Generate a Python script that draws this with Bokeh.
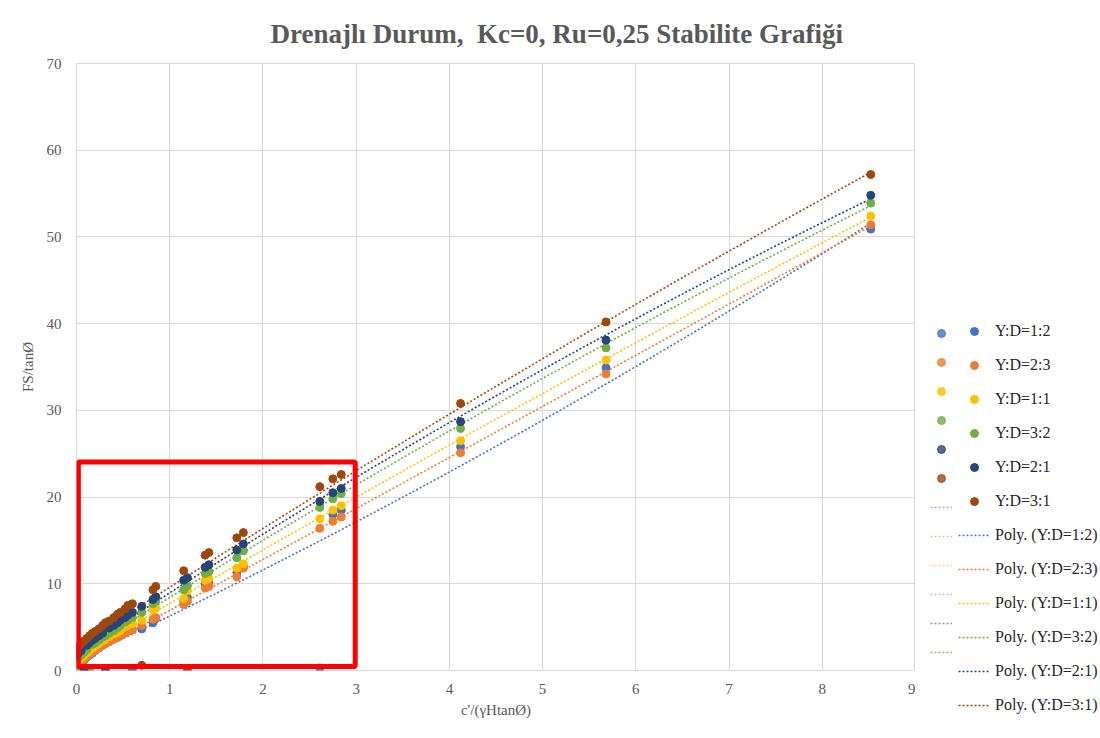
import numpy as np
from bokeh.plotting import figure
from bokeh.layouts import row, column
from bokeh.models import Legend, LegendItem, BoxAnnotation, Range1d, FixedTicker
from bokeh.embed import file_html
from bokeh.resources import INLINE

X = [0, 0.02, 0.05, 0.08, 0.11, 0.14, 0.17, 0.2, 0.24, 0.28, 0.31, 0.35, 0.4, 0.44, 0.47,
     0.52, 0.55, 0.6, 0.7, 0.82, 0.85, 1.15, 1.19, 1.38, 1.42, 1.72, 1.79, 2.61, 2.75, 2.84,
     4.12, 5.68, 8.52]

Y_12 = [0.5, 0.7, 0.9, 1.2, 1.5, 1.8, 2.0, 2.3, 2.6, 2.9, 3.1, 3.4, 3.7, 3.9, 4.1,
        4.4, 4.6, 0.1, 4.8, 5.5, 6.0, 8.0, 8.4, 10.0, 10.2, 11.3, 12.0, 0.3, 18.0, 18.5,
        25.8, 34.9, 50.9]
Y_23 = [0.6, 0.8, 1.0, 1.3, 1.6, 1.9, 2.1, 2.3, 2.6, 2.9, 3.1, 3.3, 3.6, 3.8, 4.0,
        4.3, 4.5, 4.7, 5.2, 5.9, 6.1, 7.6, 8.0, 9.5, 9.7, 10.8, 11.8, 16.4, 17.2, 17.7,
        25.1, 34.2, 51.4]
Y_11 = [0.9, 1.1, 1.4, 1.7, 2.0, 2.3, 2.6, 2.8, 3.1, 3.4, 3.6, 3.9, 4.2, 4.4, 4.6,
        5.0, 5.2, 5.4, 5.8, 7.0, 7.2, 8.3, 9.2, 10.4, 10.6, 11.8, 12.3, 17.5, 18.5, 19.0,
        26.5, 35.8, 52.4]
Y_32 = [1.2, 1.5, 1.8, 2.1, 2.4, 0.0, 3.0, 3.2, 3.5, 3.8, 4.0, 4.3, 4.6, 4.9, 5.2,
        5.6, 5.8, 6.1, 6.7, 7.7, 8.0, 9.3, 9.8, 11.2, 11.4, 13.0, 13.8, 18.8, 19.8, 20.4,
        27.9, 37.2, 53.9]
Y_21 = [1.7, 2.0, 2.3, 0.0, 2.9, 3.2, 3.5, 3.7, 4.0, 4.3, 0.1, 4.9, 5.2, 5.5, 5.8,
        6.1, 6.4, 6.7, 7.4, 8.2, 8.5, 10.4, 10.7, 11.9, 12.2, 13.9, 14.6, 19.5, 20.5, 21.0,
        28.7, 38.1, 54.8]
Y_31 = [2.5, 2.8, 3.1, 3.4, 3.7, 4.0, 4.3, 4.5, 4.8, 5.2, 5.5, 5.7, 6.1, 6.5, 6.7,
        7.1, 7.5, 7.7, 0.6, 9.3, 9.7, 11.5, 0.2, 13.3, 13.6, 15.3, 15.9, 21.2, 22.1, 22.6,
        30.8, 40.2, 57.2]

NAMES = ["Y:D=1:2", "Y:D=2:3", "Y:D=1:1", "Y:D=3:2", "Y:D=2:1", "Y:D=3:1"]
SERIES = [Y_12, Y_23, Y_11, Y_32, Y_21, Y_31]
COLORS = ["#4472C4", "#ED7D31", "#FFC000", "#70AD47", "#264478", "#9E480E"]

TITLE = "Drenajlı Durum,\u00a0\u00a0Kc=0, Ru=0,25 Stabilite Grafiği"
XLABEL = "c'/(γHtanØ)"
YLABEL = "FS/tanØ"

SERIF = "Liberation Serif"
GRAY = "#595959"
H = 735

# ---------------- main chart ----------------
p = figure(width=915, height=H, output_backend="svg", toolbar_location=None,
           x_range=Range1d(0, 9), y_range=Range1d(0, 70),
           min_border_left=76, min_border_right=0, min_border_top=63, min_border_bottom=65)
p.background_fill_color = "white"
p.border_fill_color = "white"
p.outline_line_color = "#D9D9D9"

p.title.text = TITLE
p.title.align = "left"
p.title.offset = 194
p.title.text_font = SERIF
p.title.text_font_size = "27px"
p.title.text_font_style = "bold"
p.title.text_color = GRAY
p.title.standoff = 29

for ax in (p.xaxis, p.yaxis):
    ax.axis_line_color = None
    ax.major_tick_line_color = None
    ax.minor_tick_line_color = None
    ax.major_label_text_font = SERIF
    ax.major_label_text_font_size = "15px"
    ax.major_label_text_color = GRAY
    ax.axis_label_text_font = SERIF
    ax.axis_label_text_font_size = "15px"
    ax.axis_label_text_font_style = "normal"
    ax.axis_label_text_color = GRAY
p.xaxis.ticker = FixedTicker(ticks=list(range(0, 10)))
p.yaxis.ticker = FixedTicker(ticks=list(range(0, 71, 10)))
p.xaxis.axis_label = XLABEL
p.yaxis.axis_label = YLABEL
p.xaxis.major_label_standoff = 7
p.xaxis.axis_label_standoff = 5
p.yaxis.major_label_standoff = 9
p.yaxis.axis_label_standoff = 8

p.xgrid.grid_line_color = "#D9D9D9"
p.ygrid.grid_line_color = "#D9D9D9"

xs = np.array(X)
xfit = np.linspace(0, max(X), 200)
for ys, c in zip(SERIES, COLORS):
    coef = np.polyfit(xs, np.array(ys), 2)
    p.line(xfit, np.polyval(coef, xfit), line_color=c, line_width=1.6, line_dash="2 2")
for ys, c in zip(SERIES, COLORS):
    p.scatter(X, ys, size=8, fill_color=c, line_color=c)

box = BoxAnnotation(left=0.02, right=2.99, bottom=0.46, top=24.05, fill_alpha=0,
                    line_color="#FF0000", line_width=5, line_alpha=1)
p.add_layout(box)

# ---------------- legend panel ----------------
lg = figure(width=185, height=H, output_backend="svg", toolbar_location=None,
            x_axis_location=None, y_axis_location=None,
            x_range=Range1d(0, 1), y_range=Range1d(0, 1),
            min_border=0, outline_line_color=None)
lg.border_fill_color = "white"
lg.background_fill_color = "white"
lg.grid.visible = False

# legend sample renderers (kept outside the visible range of this panel)
OFF = [5.0]
pt_r, ln_r, gpt_r, gln_r = [], [], [], []
for c in COLORS:
    pt_r.append(lg.scatter(OFF, OFF, size=8, fill_color=c, line_color=c))
    ln_r.append(lg.line(OFF * 2, OFF * 2, line_color=c, line_width=1.6, line_dash="2 2"))
    gpt_r.append(lg.scatter(OFF, OFF, size=8, fill_color=c, line_color=c, alpha=0.8))
    gln_r.append(lg.line(OFF * 2, OFF * 2, line_color=c, line_width=1.6, line_dash="2 2",
                         line_alpha=0.55))

items = [LegendItem(label=n, renderers=[r]) for n, r in zip(NAMES, pt_r)]
items += [LegendItem(label="Poly. (%s)" % n, renderers=[r]) for n, r in zip(NAMES, ln_r)]
legend = Legend(items=items, location=(43, 20), glyph_width=32, glyph_height=20,
                label_height=20, spacing=14, padding=0, margin=0, label_standoff=5,
                border_line_color=None, background_fill_alpha=0,
                label_text_font=SERIF, label_text_font_size="16px", label_text_color="#262626")
lg.add_layout(legend, "center")

gitems = [LegendItem(label=" ", renderers=[r]) for r in gpt_r + gln_r]
ghost = Legend(items=gitems, location=(15, 73), glyph_width=22, glyph_height=20,
               label_height=20, spacing=9, padding=0, margin=0, label_standoff=0,
               border_line_color=None, background_fill_alpha=0,
               label_text_font=SERIF, label_text_font_size="4px")
lg.add_layout(ghost, "center")

out = file_html(row(p, column(lg)), INLINE)
open("out.html", "w").write(out)
